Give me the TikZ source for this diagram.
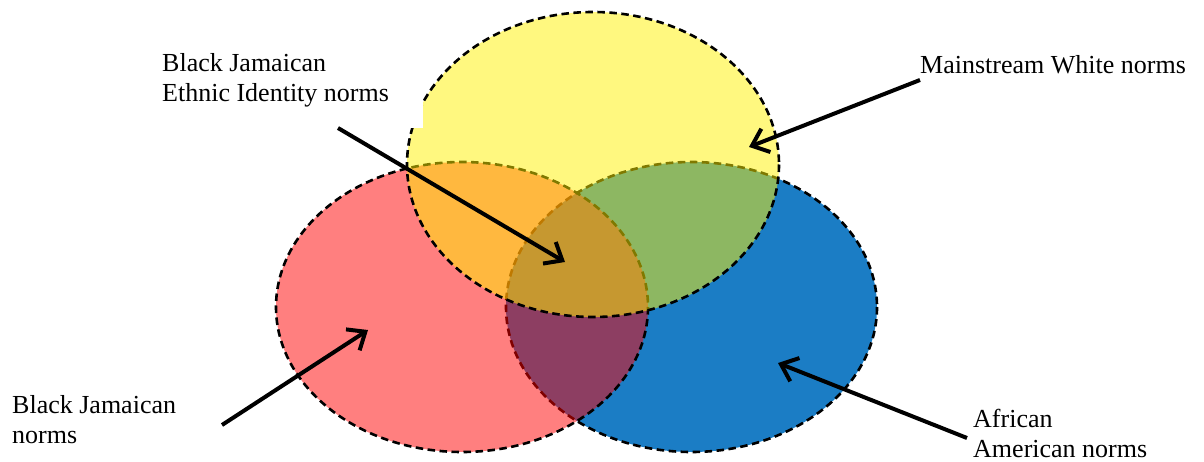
\documentclass[tikz,border=0pt]{standalone}
\usepackage{fontspec}
\setmainfont{Liberation Serif}
\usetikzlibrary{arrows.meta}
\definecolor{bluefill}{RGB}{27,125,197}
\begin{document}
\begin{tikzpicture}[x=1pt,y=-1pt,
  venn/.style={draw=black, line width=2.6pt, dash pattern=on 7.5pt off 4.5pt},
  lbl/.style={font=\fontsize{26}{30}\selectfont, align=left, inner sep=0pt, anchor=base west},
  pointer/.style={line width=4pt, -{Straight Barb[length=15pt,width=25pt]}}]
\useasboundingbox (0,0) rectangle (1204,462);
% circles
\path[venn, fill=bluefill] (691.5,307) ellipse [x radius=185.5, y radius=145];
\path[venn, fill=red, fill opacity=0.5] (462,307) ellipse [x radius=186, y radius=145];
\path[venn, fill=yellow, fill opacity=0.5] (593,164.5) ellipse [x radius=186, y radius=152.5];
% white text box covering part of the yellow circle
\fill[white] (150,40) rectangle (423,128);
% labels (base anchor = baseline of last line)
\node[lbl] (ethnic) at (162,102) {Black Jamaican\\Ethnic Identity norms};
\node[lbl] (white) at (920,74) {Mainstream White norms};
\node[lbl] (jam) at (12,443) {Black Jamaican\\norms};
\node[lbl] (afam) at (973,457) {African\\American norms};
% arrow ends
\coordinate (e1) at (338,128);
\coordinate (t1) at (565,262);
\coordinate (e2) at (222,425);
\coordinate (t2) at (368,330);
\coordinate (e3) at (920,80);
\coordinate (t3) at (749,147);
\coordinate (e4) at (967,438);
\coordinate (t4) at (778,363);
\draw[pointer] (e1) -- (t1);
\draw[pointer] (e2) -- (t2);
\draw[pointer] (e3) -- (t3);
\draw[pointer] (e4) -- (t4);
\end{tikzpicture}
\end{document}
